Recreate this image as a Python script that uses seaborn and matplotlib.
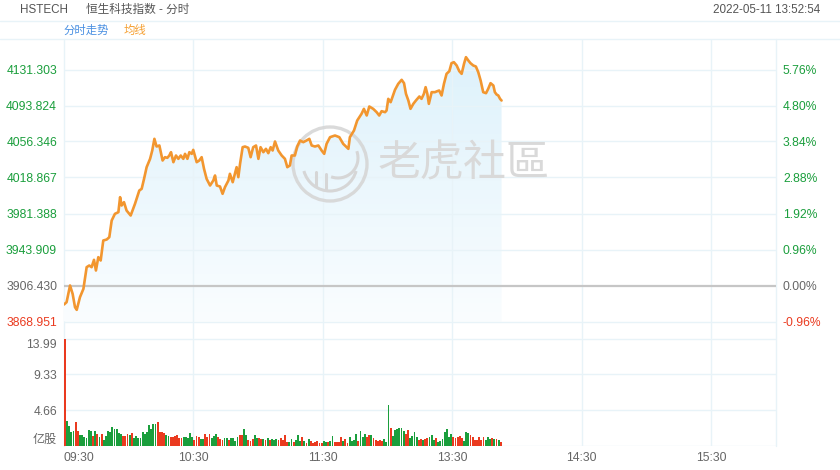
import numpy as np
import pandas as pd
import matplotlib
matplotlib.use("Agg")
import matplotlib.pyplot as plt
import seaborn as sns
from matplotlib.patches import Circle, Arc, Polygon
from matplotlib.lines import Line2D
from matplotlib.colors import LinearSegmentedColormap
from matplotlib.transforms import IdentityTransform

sns.set_theme(style="white")
plt.rcParams['font.family'] = ['Liberation Sans', 'Noto Sans CJK SC']

# ---------------- data ----------------
prev_close = 3906.430
price_ticks = [3868.951, 3906.430, 3943.909, 3981.388, 4018.867, 4056.346, 4093.824, 4131.303]
pct_labels = ["-0.96%", "0.00%", "0.96%", "1.92%", "2.88%", "3.84%", "4.80%", "5.76%"]
vol_ticks = [0, 4.66, 9.33, 13.99]
vol_labels = ["亿股", "4.66", "9.33", "13.99"]
time_ticks = [0, 60, 120, 180, 240, 300]
time_labels = ["09:30", "10:30", "11:30", "13:30", "14:30", "15:30"]
session_minutes = 330

# minutes after 09:30 (lunch break removed) and index level
price_min = [0.0, 1.2, 2.8, 4.0, 5.1, 5.9, 7.4, 9.0, 10.5, 11.7, 12.8, 13.9, 14.8, 15.9, 17.0,
             18.2, 19.8, 21.0, 22.1, 23.6, 25.2, 26.0, 26.7, 27.8, 29.0, 30.9, 32.9, 34.9, 36.0,
             37.1, 38.3, 39.9, 40.9, 41.9, 42.9, 44.2, 45.7, 46.8, 47.9, 48.8, 49.6, 50.7, 51.9,
             53.0, 54.1, 55.3, 56.1, 57.2, 58.1, 59.2, 59.9, 61.5, 62.7, 63.8, 64.9, 66.1, 67.7,
             69.2, 70.0, 70.8, 72.3, 73.5, 74.6, 76.2, 76.9, 78.2, 79.2, 80.0, 80.8, 81.6, 82.8,
             83.9, 85.4, 86.5, 87.7, 89.0, 90.1, 91.1, 92.4, 93.6, 94.7, 95.8, 96.7, 97.8, 99.3,
             100.9, 102.4, 103.5, 104.7, 105.5, 107.0, 108.1, 109.4,
             110.9, 112.4, 113.7, 114.8, 116.3, 117.9, 119.4, 120.6, 121.7, 123.3, 125.6, 127.6,
             129.4, 131.0, 131.8, 132.5, 134.4, 135.9, 137.9, 139.0, 140.3, 141.5, 143.3, 144.9,
             146.1, 147.2, 148.8, 149.5, 150.3, 151.4, 152.3, 153.4, 154.9, 156.5, 157.6, 158.5,
             159.6, 160.6, 161.9, 163.1, 164.7, 165.7, 166.8, 167.6, 168.4, 169.1, 170.4, 171.9,
             173.0, 173.9, 175.0, 176.1, 177.3, 178.6, 179.6, 180.7, 182.0, 183.2, 184.3, 185.4,
             186.3, 187.4, 188.4, 189.7, 190.9, 192.0, 193.1, 194.3, 195.6, 196.6, 197.7, 199.0,
             199.7, 200.5, 201.3, 202.1, 202.8]
price_val = [3886.64, 3889.07, 3906.42, 3897.75, 3883.87, 3881.09, 3894.28, 3902.95, 3925.51,
             3927.24, 3925.51, 3933.14, 3922.04, 3935.92, 3932.45, 3953.27, 3954.31, 3956.74,
             3974.09, 3981.03, 3982.77, 3998.39, 3989.71, 3993.18, 3984.50, 3979.30, 3991.45,
             4005.33, 4007.06, 4017.47, 4029.62, 4038.29, 4046.97, 4059.12, 4051.13, 4052.18,
             4036.56, 4040.03, 4039.34, 4041.76, 4045.23, 4034.82, 4041.76, 4038.29, 4041.76,
             4038.29, 4043.50, 4038.29, 4045.23, 4043.50, 4047.66, 4034.82, 4036.56, 4040.03,
             4027.88, 4017.47, 4010.53, 4015.74, 4020.94, 4010.53, 4009.49, 4001.86, 4008.80,
             4015.74, 4022.68, 4014.00, 4022.68, 4029.62, 4019.21, 4033.09, 4050.44, 4051.13,
             4049.75, 4040.03, 4050.44, 4052.18, 4038.29, 4050.44, 4045.23, 4048.71, 4044.19,
             4050.44, 4046.97, 4056.34, 4046.97, 4041.76, 4038.29, 4029.62, 4031.35, 4041.76,
             4041.76, 4051.13, 4057.38,
             4055.65, 4057.38, 4059.12, 4052.18, 4051.13, 4052.18, 4046.97, 4043.50, 4053.91,
             4060.85, 4062.59, 4060.85, 4053.91, 4050.44, 4048.71, 4060.85, 4067.79, 4078.20,
             4085.14, 4090.35, 4083.41, 4092.78, 4090.35, 4086.88, 4083.41, 4087.92, 4086.88,
             4088.61, 4100.76, 4097.29, 4103.19, 4110.13, 4116.38, 4120.54, 4117.07, 4105.97,
             4099.02, 4090.35, 4095.55, 4099.02, 4103.19, 4100.76, 4105.97, 4112.91, 4105.97,
             4095.55, 4107.70, 4107.70, 4108.74, 4109.44, 4104.23, 4116.38, 4126.79, 4129.56,
             4137.89, 4138.93, 4135.46, 4129.56, 4126.79, 4137.20, 4144.14, 4140.67, 4137.89,
             4135.46, 4134.42, 4128.52, 4119.85, 4107.70, 4106.66, 4111.17, 4117.07, 4114.64,
             4107.70, 4105.27, 4104.23, 4100.76, 4099.02]

# per-minute volume (亿股), morning 09:30-12:00 and afternoon from 13:00
vol_am = [13.99, 3.27, 2.57, 1.79, 1.92, 3.14, 1.96, 1.35, 1.35, 1.09,
          1.05, 2.09, 1.96, 1.26, 1.96, 1.53, 1.09, 1.48, 0.74, 1.26,
          1.96, 1.79, 2.40, 2.18, 2.18, 1.61, 1.53, 1.26, 1.26, 1.57,
          1.40, 1.61, 1.00, 1.26, 0.96, 1.00, 1.79, 1.53, 1.83, 2.75,
          2.22, 2.83, 2.90, 3.10, 1.79, 1.74, 1.61, 1.40, 1.26, 1.18,
          1.18, 1.31, 1.40, 1.00, 1.05, 1.13, 1.13, 1.05, 1.61, 1.09,
          0.74, 1.26, 1.18, 0.83, 0.83, 1.48, 1.18, 1.48, 1.00, 1.26,
          1.48, 1.18, 0.92, 0.70, 1.00, 0.96, 0.70, 0.96, 1.00, 0.57,
          1.18, 1.35, 1.35, 2.22, 1.40, 0.74, 0.65, 0.83, 1.40, 1.05,
          0.96, 0.87, 0.92, 0.78, 0.96, 0.74, 0.92, 0.70, 0.92, 0.74,
          0.96,
          0.74, 1.35, 0.48, 0.48, 0.87, 0.48, 0.74, 1.35, 0.61, 1.09,
          0.61, 0.39, 0.87, 0.61, 0.39, 0.48, 0.57, 0.39, 0.39, 0.61,
          0.48, 0.48, 0.57, 1.22, 0.48, 0.48, 0.48, 1.09, 0.61, 0.83,
          0.31, 1.09, 0.61, 0.74, 1.48, 0.61, 1.87, 1.09, 1.53, 1.13,
          1.40, 1.40, 1.00, 0.74, 0.65, 0.74, 0.65, 0.87, 0.52]
dir_am = ("rggggrrggg" "gggrgrgrgg" "gggggggrrr" "grgggggggg" "gggrrrrggr"
          "rrrrrggggg" "rrrggrrrgg" "grrrggrggg" "grrggrrrgg" "rrgrgrgggr" "r"
          "rrrggrgggr" "grgrrrrrrg" "grggrrrrgr" "rggggrgggr" "rgrrrrrgg")
vol_pm = [5.28, 2.27, 1.26, 2.09, 2.22, 2.27, 2.31, 1.87, 1.48, 2.09,
          1.00, 1.26, 1.74, 1.18, 0.70, 0.87, 0.70, 0.92, 0.96, 1.09,
          1.44, 0.74, 1.00, 0.52, 0.65, 0.92, 1.83, 2.14, 1.18, 1.53,
          1.09, 0.96, 1.13, 1.26, 0.96, 0.65, 1.79, 1.61, 1.35, 1.18,
          0.74, 0.74, 1.09, 0.74, 1.09, 0.74, 1.09, 0.92, 0.96, 0.83,
          0.83, 0.74, 0.48]
dir_pm = "grggggggrr" "ggggrrgrrg" "ggrggggggg" "rrrrrgggrr" "rrrrrgggrg" "rgr"
pm_start = 150

# ---------------- styling ----------------
W, H = 840, 470
GRID = '#e8f3f8'
GREEN = '#1a9e3c'
RED = '#ea3a1f'
GRAY_TXT = '#666666'
LINE_C = '#f2962f'

fig = plt.figure(figsize=(W / 100, H / 100), dpi=100)
fig.patch.set_facecolor('white')

def fx(px):
    return px / W

def fy(py):
    return 1 - py / H

L, R = 64, 776
main_top, main_bot = 39, 338
vol_top, vol_bot = 337.5, 445.7
ax = fig.add_axes([fx(L), fy(main_bot), fx(R - L), (main_bot - main_top) / H])
axv = fig.add_axes([fx(L), fy(vol_bot), fx(R - L), (vol_bot - vol_top) / H])
ax.set_facecolor('none')
axv.set_facecolor('none')

# y scale of the main panel: grid step per 36 px, lowest grid at y=321.5 px
per_px = (price_ticks[1] - price_ticks[0]) / 36.0
y_low = price_ticks[0] - (main_bot - 321.5) * per_px
y_high = price_ticks[0] + (321.5 - main_top) * per_px

# gradient fill under line
fill_cmap = LinearSegmentedColormap.from_list('f', ['#fafdff', '#dcf1fb'])
grad = np.linspace(0, 1, 256).reshape(-1, 1)
im = ax.imshow(grad, extent=[0, session_minutes, price_ticks[0], y_high], origin='lower',
               aspect='auto', cmap=fill_cmap, zorder=1, interpolation='bicubic')
verts = [(price_min[0], price_ticks[0])] + list(zip(price_min, price_val)) + [(price_min[-1], price_ticks[0])]
poly = Polygon(verts, closed=True, facecolor='none', edgecolor='none', transform=ax.transData)
ax.add_patch(poly)
im.set_clip_path(poly)

for t in price_ticks:
    if t != prev_close:
        ax.axhline(t, color=GRID, lw=1.0, zorder=2)
for t in time_ticks[1:]:
    ax.axvline(t, color=GRID, lw=1.0, zorder=2)
    axv.axvline(t, color=GRID, lw=1.0, zorder=0)
ax.axhline(prev_close, color='#c6c6c6', lw=1.6, zorder=3)

# watermark
pix = IdentityTransform()
cx, cy, r = 330, H - 164, 37
WM = '#d6d6d6'
ax.add_patch(Circle((cx, cy), r, transform=pix, fill=False, ec=WM, lw=2.4, zorder=2.5, alpha=0.9))
ax.add_patch(Arc((cx, cy), 2 * 27, 2 * 27, theta1=195, theta2=345, transform=pix, ec=WM, lw=2.2, zorder=2.5))
ax.add_patch(Arc((cx + 8, cy + 6), 2 * 20, 2 * 20, theta1=250, theta2=20, transform=pix, ec=WM, lw=2.2, zorder=2.5))
ax.add_line(Line2D([cx - 14, cx - 14], [cy - 22, cy - 8], transform=pix, color=WM, lw=2.2, zorder=2.5))
ax.add_line(Line2D([cx - 4, cx - 4], [cy - 25, cy - 10], transform=pix, color=WM, lw=2.2, zorder=2.5))
ax.text(378, H - 164, "老虎社區", transform=pix, fontsize=31, color='#d9d9d9',
        family=['Noto Sans CJK TC', 'Noto Sans CJK SC'], va='center', ha='left', zorder=2.5)

sns.lineplot(x=price_min, y=price_val, ax=ax, color=LINE_C, lw=1.9, sort=False,
             estimator=None, zorder=4)

ax.set_xlim(0, session_minutes)
ax.set_ylim(y_low, y_high)
ax.set_xticks([])
ax.set_yticks(price_ticks)
ax.set_yticklabels([f"{v:.3f}" for v in price_ticks])
ax.tick_params(axis='y', length=0, pad=5, labelsize=8.7)
for lab, v in zip(ax.get_yticklabels(), price_ticks):
    lab.set_color(GREEN if v > prev_close else (RED if v < prev_close else GRAY_TXT))
ax.set_xlabel('')
ax.set_ylabel('')
for s in ax.spines.values():
    s.set_visible(False)

ax2 = ax.twinx()
ax2.set_facecolor('none')
ax2.set_ylim(y_low, y_high)
ax2.set_yticks(price_ticks)
ax2.set_yticklabels(pct_labels)
ax2.tick_params(axis='y', length=0, pad=5, labelsize=8.7)
for lab, v in zip(ax2.get_yticklabels(), price_ticks):
    lab.set_color(GREEN if v > prev_close else (RED if v < prev_close else GRAY_TXT))
for s in ax2.spines.values():
    s.set_visible(False)

# volume panel
vdf = pd.DataFrame({
    'minute': list(range(len(vol_am))) + list(range(pm_start, pm_start + len(vol_pm))),
    'vol': vol_am + vol_pm,
    'dir': list(dir_am) + list(dir_pm),
})
for t in vol_ticks[1:]:
    axv.axhline(t, color=GRID, lw=1.0, zorder=0)
axv.axhline(0, color=GRID, lw=1.0, zorder=0)
bar_colors = vdf['dir'].map({'r': RED, 'g': GREEN})
axv.bar(vdf['minute'], vdf['vol'], width=0.85, align='edge', color=bar_colors,
        linewidth=0, zorder=3)
axv.set_xlim(0, session_minutes)
axv.set_ylim(0, 13.99 * (vol_bot - vol_top) / (vol_bot - 338.7))
axv.set_yticks(vol_ticks)
axv.set_yticklabels(vol_labels)
axv.tick_params(axis='y', length=0, pad=5, labelsize=8.7, labelcolor=GRAY_TXT)
ylabs = axv.get_yticklabels()
ylabs[0].set_verticalalignment('bottom')
ylabs[-1].set_verticalalignment('top')
axv.set_xticks(time_ticks)
axv.set_xticklabels(time_labels)
axv.tick_params(axis='x', length=0, pad=4.5, labelsize=8.7, labelcolor=GRAY_TXT)
axv.get_xticklabels()[0].set_horizontalalignment('left')
axv.set_xlabel('')
axv.set_ylabel('')
axv.grid(False)
for s in axv.spines.values():
    s.set_visible(False)

# frame lines (drawn beneath the axes content)
for yy in (20.7, 38.5):
    fig.add_artist(Line2D([0, 1], [fy(yy), fy(yy)], transform=fig.transFigure, color=GRID, lw=1.0, zorder=-1))
for xx in (L, R):
    fig.add_artist(Line2D([fx(xx), fx(xx)], [fy(39), fy(446)], transform=fig.transFigure, color=GRID, lw=1.0, zorder=-1))

# header
fig.text(fx(20), fy(10), "HSTECH", fontsize=8.4, color='#555555', va='center', ha='left')
fig.text(fx(86), fy(10), "恒生科技指数 - 分时", fontsize=8.4, color='#555555', va='center', ha='left')
fig.text(fx(820), fy(10), "2022-05-11 13:52:54", fontsize=8.4, color='#555555', va='center', ha='right')
fig.text(fx(64), fy(30), "分时走势", fontsize=8.2, color='#4a90e2', va='center', ha='left')
fig.text(fx(124), fy(30), "均线", fontsize=8.2, color='#f5a033', va='center', ha='left')

fig.savefig("out.png", dpi=100, facecolor='white')
